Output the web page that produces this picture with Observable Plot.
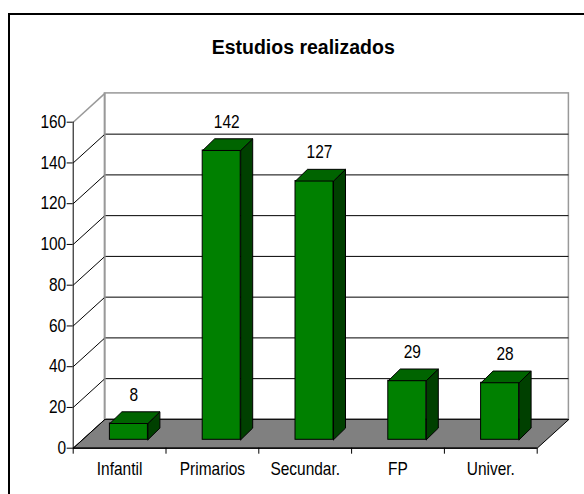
<!DOCTYPE html>
<html><head><meta charset="utf-8">
<script src="https://cdn.jsdelivr.net/npm/d3@7"></script>
<script src="https://cdn.jsdelivr.net/npm/@observablehq/plot@0.6"></script>
<style>
html,body{margin:0;padding:0;background:#fff;overflow:hidden;}
#wrap{position:relative;width:584px;height:494px;}
#wrap svg{position:absolute;left:0;top:0;}
#border{position:absolute;left:8px;top:13px;width:700px;height:700px;border-left:2px solid #000;border-top:2px solid #000;}
</style></head><body><div id="wrap"><div id="border"></div></div>
<script>
const title = "Estudios realizados";
const categories = ["Infantil","Primarios","Secundar.","FP","Univer."];
const values = [8,142,127,29,28];
const yTicks = [0,20,40,60,80,100,120,140,160];

const W=584,H=494;
const mL=72.7, mR=584-536.7, mT=121.7, mB=494-447.7;
const plotW = W-mL-mR, plotH = H-mT-mB;
const n = categories.length, yMax = yTicks[yTicks.length-1];
const ux = n/plotW, uy = yMax/plotH;
const wallDX=31.7, wallDY=28.8;
const barOffDX=9.3, barOffDY=8.4;
const barDX=12, barDY=11.7;
const barW=38;
const font = "'Liberation Sans',Arial,sans-serif";

const data = categories.map((c,i)=>({c,i,v:values[i]}));
const xL = d => d.i + 0.5 - barW/2*ux;
const xR = d => d.i + 0.5 + barW/2*ux;
const poly = (k, pts) => [...pts, pts[0]].map(p => ({k, x:p[0], y:p[1]}));
const topFaces = data.flatMap(d => poly(d.i, [[xL(d),d.v],[xR(d),d.v],[xR(d)+barDX*ux,d.v+barDY*uy],[xL(d)+barDX*ux,d.v+barDY*uy]]));
const sideFaces = data.flatMap(d => poly(d.i, [[xR(d),0],[xR(d),d.v],[xR(d)+barDX*ux,d.v+barDY*uy],[xR(d)+barDX*ux,barDY*uy]]));
const floor = poly(0, [[0,0],[n,0],[n+wallDX*ux,wallDY*uy],[wallDX*ux,wallDY*uy]]);

const chart = Plot.plot({
  width: W, height: H,
  marginLeft: mL, marginRight: mR, marginTop: mT, marginBottom: mB,
  x: {type:"linear", domain:[0,n], axis:null},
  y: {type:"linear", domain:[0,yMax], axis:null},
  style: {fontFamily: font, fontSize: "18px", color:"#000", background:"transparent", overflow:"visible"},
  marks: [
    Plot.rect([{}], {x1:()=>0, x2:()=>n, y1:()=>0, y2:()=>yMax, dx:wallDX, dy:-wallDY, fill:"#fff", stroke:"#999", strokeWidth:1.5}),
    Plot.ruleY(yTicks.filter(t=>t>0 && t<yMax), {y:d=>d, x1:()=>0, x2:()=>n, dx:wallDX, dy:-wallDY, stroke:"#000", strokeWidth:1}),
    Plot.line(floor, {x:"x", y:"y", z:"k", fill:"#808080", stroke:"#000", strokeWidth:1}),
    Plot.link(yTicks.filter(t=>t<yMax), {x1:()=>0, y1:d=>d, x2:()=>wallDX*ux, y2:d=>d+wallDY*uy, stroke:"#000", strokeWidth:1}),
    Plot.link([yMax], {x1:()=>0, y1:d=>d, x2:()=>wallDX*ux, y2:d=>d+wallDY*uy, stroke:"#999", strokeWidth:1.5}),
    Plot.ruleX([wallDX*ux], {x:d=>d, y1:()=>wallDY*uy, y2:()=>yMax+wallDY*uy, stroke:"#999", strokeWidth:1.5}),
    Plot.line(sideFaces, {x:"x", y:"y", z:"k", fill:"#004000", stroke:"#000", strokeWidth:1, dx:barOffDX, dy:-barOffDY}),
    Plot.rect(data, {x1:xL, x2:xR, y1:()=>0, y2:"v", dx:barOffDX, dy:-barOffDY, fill:"#008000", stroke:"#000", strokeWidth:1}),
    Plot.line(topFaces, {x:"x", y:"y", z:"k", fill:"#006400", stroke:"#000", strokeWidth:1, dx:barOffDX, dy:-barOffDY}),
    Plot.ruleX([0], {x:d=>d, stroke:"#000", strokeWidth:1}),
    Plot.ruleY([0], {y:d=>d, x1:()=>0, x2:()=>n, stroke:"#000", strokeWidth:1.2}),
    Plot.axisY(yTicks, {tickSize:6, tickPadding:1, fontSize:18, fontFamily:font, stroke:"#000", label:null}),
    Plot.axisX(d3.range(n+1), {tickSize:6, tickFormat:()=>"", stroke:"#000", label:null}),
    Plot.text(data, {x:d=>d.i+0.5, y:()=>0, text:"c", dy:21, lineAnchor:"middle", fontSize:18, fontFamily:font, fill:"#000"}),
    Plot.text(data, {x:d=>d.i+0.5, y:"v", text:d=>String(d.v), dx:barOffDX+5, dy:-barOffDY-28.5, lineAnchor:"middle", fontSize:18, fontFamily:font, fill:"#000"}),
    Plot.text([title], {frameAnchor:"top", dx:-2, dy:-(mT-47), lineAnchor:"middle", fontSize:19.5, fontWeight:"bold", fontFamily:font, fill:"#000"})
  ]
});
// condense the regular-weight texts horizontally (reference uses a narrow face)
chart.querySelectorAll("text").forEach(t => {
  if ((t.textContent || "") === title) return;
  const tr = t.getAttribute("transform");
  if (tr) {
    t.setAttribute("transform", tr + " scale(0.86,1)");
  } else {
    const x = +(t.getAttribute("x") || 0);
    t.setAttribute("transform", `translate(${x},0) scale(0.86,1) translate(${-x},0)`);
  }
});
document.getElementById("wrap").prepend(chart);
</script></body></html>
